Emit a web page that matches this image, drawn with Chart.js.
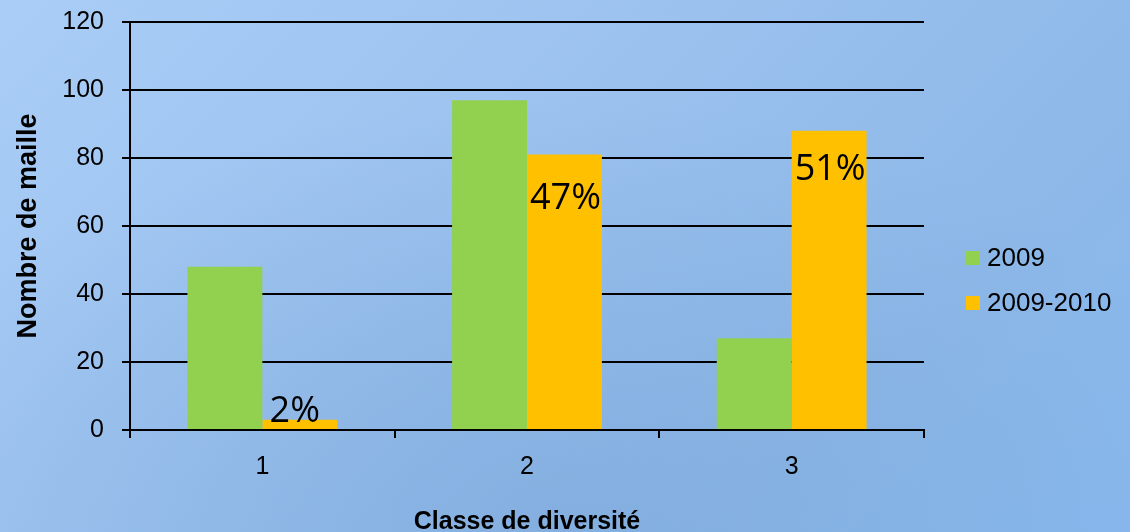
<!DOCTYPE html>
<html>
<head>
<meta charset="utf-8">
<script src="https://cdn.jsdelivr.net/npm/chart.js@4.4.1/dist/chart.umd.min.js"></script>
<style>
  html, body { margin: 0; padding: 0; }
  body {
    width: 1130px; height: 532px; overflow: hidden;
    background:
      radial-gradient(ellipse 700px 420px at 560px 520px, rgba(120,165,215,0.55), rgba(120,165,215,0) 100%),
      linear-gradient(135deg, #A9CDF6 0%, #9CC2EF 40%, #8DB8E8 75%, #88B8EE 100%);
  }
  #wrap { position: absolute; left: 0; top: 0; width: 1130px; height: 532px; }
</style>
</head>
<body>
<div id="wrap"><canvas id="c" width="1130" height="532"></canvas></div>
<script>
const categories = ['1', '2', '3'];
const series2009 = [48, 97, 27];
const series2009_2010 = [3, 81, 88];
const seriesNames = ['2009', '2009-2010'];
const pctLabels = ['2%', '47%', '51%'];
const yTicks = [0, 20, 40, 60, 80, 100, 120];

const FONT = "'Liberation Sans', Arial, sans-serif";

const pctLabelPlugin = {
  id: 'pctLabels',
  afterDatasetsDraw(chart, args, opts) {
    const meta = chart.getDatasetMeta(1);
    const ctx = chart.ctx;
    ctx.save();
    ctx.font = opts.font;
    ctx.fillStyle = '#000';
    ctx.textAlign = 'center';
    ctx.textBaseline = 'alphabetic';
    meta.data.forEach((bar, i) => {
      const dx = opts.dx[i] || 0;
      const dy = opts.dy[i] || 0;
      ctx.fillText(pctLabels[i], bar.x + dx, bar.y + dy);
    });
    ctx.restore();
  }
};

const customLegend = {
  id: 'customLegend',
  afterDraw(chart, args, opts) {
    const ctx = chart.ctx;
    const area = chart.chartArea;
    ctx.save();
    ctx.font = opts.font;
    ctx.textBaseline = 'middle';
    ctx.textAlign = 'left';
    chart.data.datasets.forEach((ds, i) => {
      const x = area.right + opts.gap;
      const cy = opts.firstY + i * opts.spacing;
      ctx.fillStyle = ds.backgroundColor;
      ctx.fillRect(x, cy - opts.box / 2, opts.box, opts.box);
      ctx.fillStyle = '#000';
      ctx.fillText(ds.label, x + opts.box + opts.textGap, cy + 1);
    });
    ctx.restore();
  }
};

new Chart(document.getElementById('c'), {
  type: 'bar',
  data: {
    labels: categories,
    datasets: [
      { label: seriesNames[0], data: series2009, backgroundColor: '#92D050' },
      { label: seriesNames[1], data: series2009_2010, backgroundColor: '#FFC000' }
    ]
  },
  options: {
    responsive: false,
    animation: false,
    devicePixelRatio: 1,
    layout: { padding: { top: 22, right: 206, bottom: 0, left: 0 } },
    datasets: { bar: { categoryPercentage: 0.566, barPercentage: 1.0, borderWidth: 0 } },
    plugins: {
      legend: { display: false },
      tooltip: { enabled: false },
      pctLabels: {
        font: "36px 'Open Sans', sans-serif",
        dx: [-5, 1, 1],
        dy: [2, 54, 49]
      },
      customLegend: {
        font: "26px " + FONT,
        gap: 42, box: 14, textGap: 7, firstY: 258, spacing: 45
      }
    },
    scales: {
      x: {
        afterFit(scale) { scale.height = 102; scale.paddingLeft = 0; scale.paddingRight = 0; },
        grid: {
          offset: true,
          drawOnChartArea: true,
          color: (c) => (c.index === 3 ? '#000' : 'rgba(0,0,0,0)'),
          tickColor: '#000',
          lineWidth: 2,
          tickLength: 8
        },
        border: { display: true, color: '#000', width: 2 },
        ticks: { color: '#000', font: { family: FONT, size: 25 }, padding: 14 },
        title: {
          display: true, text: 'Classe de diversité', color: '#000',
          font: { family: FONT, size: 25, weight: 'bold', lineHeight: 1.0 },
          padding: { top: 0, bottom: -3 }
        }
      },
      y: {
        min: 0, max: 120,
        afterFit(scale) { scale.width = 130; scale.paddingTop = 0; scale.paddingBottom = 0; },
        afterBuildTicks(scale) { scale.ticks = yTicks.map(v => ({ value: v })); },
        grid: { color: '#000', lineWidth: 2, tickLength: 8, tickColor: '#000' },
        border: { display: true, color: '#000', width: 2 },
        ticks: { color: '#000', font: { family: FONT, size: 25 }, padding: 18 },
        title: {
          display: true, text: 'Nombre de maille', color: '#000',
          font: { family: FONT, size: 27, weight: 'bold' },
          padding: { top: 12, bottom: 0 }
        }
      }
    }
  },
  plugins: [pctLabelPlugin, customLegend]
});
</script>
</body>
</html>
